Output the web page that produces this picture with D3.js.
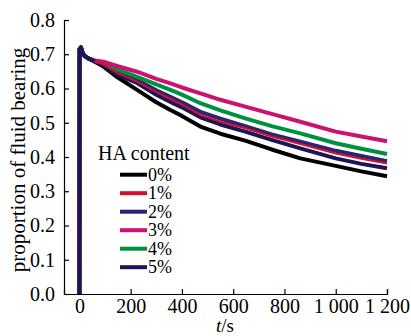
<!DOCTYPE html>
<html>
<head>
<meta charset="utf-8">
<script src="https://cdn.jsdelivr.net/npm/d3@7"></script>
</head>
<body style="margin:0">
<div id="chart"></div>
<script>
var w = 411;
var h = 336;
var serif = "'Liberation Serif'";

// time points (s)
var times = [0, 1, 6, 12, 20, 35, 60, 94, 150, 225, 300, 355, 400, 472, 550, 647, 750, 862, 1000, 1100, 1200];
var head = [0, 0.715, 0.72, 0.705, 0.695, 0.688];

var ha0 = head.concat([0.678, 0.664, 0.632, 0.596, 0.560, 0.537, 0.520, 0.489, 0.468, 0.448, 0.422, 0.396, 0.374, 0.358, 0.344]);
var ha1 = head.concat([0.680, 0.670, 0.645, 0.620, 0.590, 0.570, 0.553, 0.523, 0.503, 0.484, 0.460, 0.438, 0.410, 0.395, 0.381]);
var ha2 = head.concat([0.680, 0.671, 0.648, 0.625, 0.595, 0.576, 0.560, 0.532, 0.512, 0.490, 0.466, 0.445, 0.418, 0.403, 0.388]);
var ha3 = head.concat([0.682, 0.678, 0.665, 0.649, 0.628, 0.615, 0.603, 0.586, 0.567, 0.547, 0.526, 0.503, 0.474, 0.460, 0.446]);
var ha4 = head.concat([0.681, 0.674, 0.655, 0.634, 0.612, 0.596, 0.582, 0.557, 0.536, 0.513, 0.490, 0.469, 0.440, 0.424, 0.409]);
var ha5 = head.concat([0.679, 0.668, 0.640, 0.616, 0.582, 0.561, 0.545, 0.516, 0.495, 0.474, 0.450, 0.425, 0.396, 0.380, 0.367]);

var labels = ["0%", "1%", "2%", "3%", "4%", "5%"];
var colors = ["#000000", "#d0112b", "#2e2370", "#cc1170", "#009140", "#1e1559"];
var xTicks = [0, 200, 400, 600, 800, 1000, 1200];
var xTickLabels = ["0", "200", "400", "600", "800", "1 000", "1 200"];
var yTicks = [0, 0.1, 0.2, 0.3, 0.4, 0.5, 0.6, 0.7, 0.8];

var svg = d3.select("#chart").append("svg")
  .attr("width", w)
  .attr("height", h);

var xScale = d3.scaleLinear().domain([-60, 1200]).range([64, 387]);
var yScale = d3.scaleLinear().domain([0, 0.8]).range([294, 20]);

var xAxis = d3.axisBottom(xScale)
  .tickValues(xTicks)
  .tickSize(-5)
  .tickPadding(5)
  .tickFormat(function(d, i) { return xTickLabels[i]; });
var yAxis = d3.axisLeft(yScale)
  .tickValues(yTicks)
  .tickSize(-5)
  .tickPadding(9)
  .tickFormat(d3.format(".1f"));

var gx = svg.append("g")
  .attr("transform", "translate(0," + yScale(0) + ")")
  .call(xAxis);
var gy = svg.append("g")
  .attr("transform", "translate(" + xScale(-60) + ",0)")
  .call(yAxis);

[gx, gy].forEach(function(g) {
  g.select(".domain").attr("stroke", "#000").attr("stroke-width", 1.2);
  g.selectAll(".tick line").attr("stroke", "#000").attr("stroke-width", 1.2);
  g.selectAll("text")
    .attr("fill", "#000")
    .style("font-family", serif)
    .style("font-size", "20px");
});

var series = [ha0, ha1, ha2, ha3, ha4, ha5];
var line = d3.line()
  .x(function(d, i) { return xScale(times[i]); })
  .y(function(d) { return yScale(d); });

// draw order so that the thin red line sits on top of the blues
var order = [0, 2, 5, 4, 3, 1];
order.forEach(function(k) {
  svg.append("path")
    .datum(series[k])
    .attr("fill", "none")
    .attr("stroke", colors[k])
    .attr("stroke-width", k === 1 ? 2 : 4)
    .attr("stroke-linejoin", "round")
    .attr("d", line);
});

// the start spike is navy on top
svg.append("path")
  .datum(ha5.slice(0, 7))
  .attr("fill", "none")
  .attr("stroke", colors[5])
  .attr("stroke-width", 4)
  .attr("stroke-linejoin", "round")
  .attr("d", line);

// legend
svg.append("text")
  .attr("x", 98)
  .attr("y", 160)
  .style("font-family", serif)
  .style("font-size", "20px")
  .text("HA content");

var legend = svg.selectAll(".legend")
  .data(labels)
  .enter()
  .append("g")
  .attr("class", "legend")
  .attr("transform", function(d, i) { return "translate(0," + (174.7 + i * 18.5) + ")"; });

legend.append("line")
  .attr("x1", 120)
  .attr("x2", 147)
  .attr("stroke", function(d, i) { return colors[i]; })
  .attr("stroke-width", 4);

legend.append("text")
  .attr("x", 148)
  .attr("y", 6)
  .style("font-family", serif)
  .style("font-size", "18px")
  .text(function(d) { return d; });

// axis titles
svg.append("text")
  .attr("transform", "translate(25,160) rotate(-90)")
  .attr("text-anchor", "middle")
  .style("font-family", serif)
  .style("font-size", "21px")
  .text("proportion of fluid bearing");

var xt = svg.append("text")
  .attr("x", 225)
  .attr("y", 332)
  .attr("text-anchor", "middle")
  .style("font-family", serif)
  .style("font-size", "19px");
xt.append("tspan").style("font-style", "italic").text("t");
xt.append("tspan").text("/s");
</script>
</body>
</html>
